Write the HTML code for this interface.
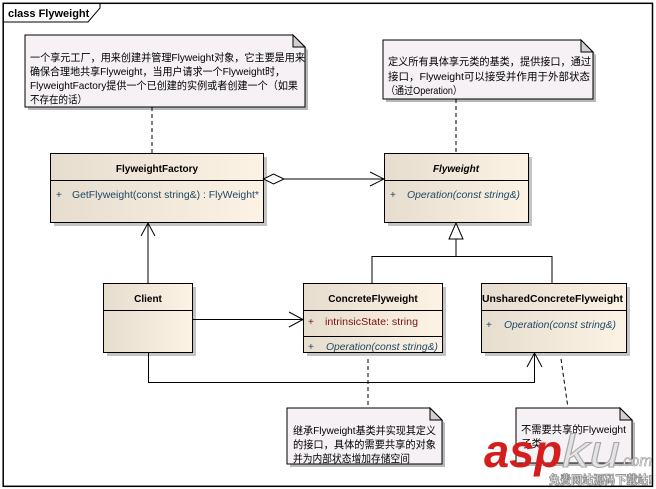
<!DOCTYPE html>
<html><head><meta charset="utf-8"><style>
html,body{margin:0;padding:0;background:#fff;}
svg{display:block;}
text{font-family:"Liberation Sans","Noto Sans CJK SC",sans-serif;}
.n{font-size:10.5px;fill:#000;}
.cn{font-size:10px;font-weight:bold;fill:#000;}
.op{font-size:10px;fill:#1c4866;}
.at{font-size:10px;fill:#7a1010;}
</style></head><body>
<svg width="656" height="489" viewBox="0 0 656 489" xmlns="http://www.w3.org/2000/svg">
<defs>
<linearGradient id="g" x1="0" y1="0" x2="1" y2="0">
<stop offset="0" stop-color="#e6ddcf"/><stop offset="1" stop-color="#fcf3e5"/>
</linearGradient>
</defs>
<rect x="0" y="0" width="656" height="489" fill="#fff"/>
<!-- frame -->
<rect x="3.2" y="3.3" width="649.3" height="483" fill="none" stroke="#000" stroke-width="1.5"/>
<polyline points="3,22 88,22 100,8 100,3" fill="none" stroke="#000" stroke-width="1"/>
<text x="8" y="17" style="font-size:11px;font-weight:bold">class Flyweight</text>

<!-- note 1 -->
<polygon points="28,38 296,38 308,50 308,110 28,110" fill="#b8b8b8"/>
<polygon points="25,35 293,35 305,47 305,107 25,107" fill="#f5f1f5" stroke="#000"/>
<polygon points="293,35 305,47 293,47" fill="#d2d0d2" stroke="#000"/>
<text class="n" x="30" y="61" textLength="275" lengthAdjust="spacingAndGlyphs">一个享元工厂，用来创建并管理Flyweight对象，它主要是用来</text>
<text class="n" x="30" y="75" textLength="255" lengthAdjust="spacingAndGlyphs">确保合理地共享Flyweight，当用户请求一个Flyweight时，</text>
<text class="n" x="30" y="89" textLength="268" lengthAdjust="spacingAndGlyphs">FlyweightFactory提供一个已创建的实例或者创建一个（如果</text>
<text class="n" x="30" y="103" textLength="57" lengthAdjust="spacingAndGlyphs">不存在的话）</text>

<!-- note 2 -->
<polygon points="386,43 584,43 596,55 596,102 386,102" fill="#b8b8b8"/>
<polygon points="383,40 581,40 593,52 593,99 383,99" fill="#f5f1f5" stroke="#000"/>
<polygon points="581,40 593,52 581,52" fill="#d2d0d2" stroke="#000"/>
<text class="n" x="388" y="65" textLength="203" lengthAdjust="spacingAndGlyphs">定义所有具体享元类的基类，提供接口，通过</text>
<text class="n" x="388" y="80" textLength="202" lengthAdjust="spacingAndGlyphs">接口，Flyweight可以接受并作用于外部状态</text>
<text class="n" x="386" y="94" textLength="76" lengthAdjust="spacingAndGlyphs">（通过Operation）</text>

<!-- dashed note links -->
<g stroke="#000" stroke-dasharray="4,3" fill="none">
<line x1="152" y1="107" x2="152" y2="153"/>
<line x1="456" y1="99" x2="456" y2="153"/>
<line x1="368" y1="352" x2="368" y2="408"/>
<line x1="560" y1="352" x2="568" y2="408"/>
</g>

<!-- FlyweightFactory -->
<rect x="54" y="157" width="213" height="69" fill="#c4c4c4"/>
<rect x="50.5" y="153.5" width="213" height="69" fill="url(#g)" stroke="#000"/>
<line x1="50.5" y1="180.5" x2="263.5" y2="180.5" stroke="#000"/>
<text class="cn" x="157" y="172" text-anchor="middle">FlyweightFactory</text>
<text class="op" x="56" y="198">+</text>
<text class="op" x="72" y="198" textLength="187" lengthAdjust="spacingAndGlyphs">GetFlyweight(const string&amp;) : FlyWeight*</text>

<!-- Flyweight -->
<rect x="388" y="157" width="144" height="69" fill="#c4c4c4"/>
<rect x="384.5" y="153.5" width="144" height="69" fill="url(#g)" stroke="#000"/>
<line x1="384.5" y1="180.5" x2="528.5" y2="180.5" stroke="#000"/>
<text class="cn" x="456" y="172" text-anchor="middle" font-style="italic">Flyweight</text>
<text class="op" x="390" y="198">+</text>
<text class="op" x="407" y="198" font-style="italic" textLength="113" lengthAdjust="spacingAndGlyphs">Operation(const string&amp;)</text>

<!-- aggregation -->
<line x1="284" y1="179" x2="384" y2="179" stroke="#000"/>
<polygon points="263.5,179 273.5,174 284,179 273.5,184" fill="#fff" stroke="#000"/>
<polyline points="370,172 384,179 370,186" fill="none" stroke="#000"/>

<!-- generalization -->
<polyline points="372,283 372,256.5 552,256.5 552,283" fill="none" stroke="#000"/>
<line x1="456" y1="239" x2="456" y2="256.5" stroke="#000"/>
<polygon points="456,223 449,239 463,239" fill="#fff" stroke="#000"/>

<!-- Client -->
<rect x="107" y="287" width="89" height="69" fill="#c4c4c4"/>
<rect x="103.5" y="283.5" width="89" height="69" fill="url(#g)" stroke="#000"/>
<line x1="103.5" y1="310.5" x2="192.5" y2="310.5" stroke="#000"/>
<text class="cn" x="148" y="302" text-anchor="middle">Client</text>

<!-- Client -> Factory -->
<line x1="148" y1="223" x2="148" y2="283" stroke="#000"/>
<polyline points="141,236 148,223 155,236" fill="none" stroke="#000"/>

<!-- ConcreteFlyweight -->
<rect x="307" y="287" width="139" height="69" fill="#c4c4c4"/>
<rect x="303.5" y="283.5" width="139" height="69" fill="url(#g)" stroke="#000"/>
<line x1="303.5" y1="310.5" x2="442.5" y2="310.5" stroke="#000"/>
<line x1="303.5" y1="336.5" x2="442.5" y2="336.5" stroke="#000"/>
<text class="cn" x="373" y="302" text-anchor="middle">ConcreteFlyweight</text>
<text class="at" x="308" y="325">+</text>
<text class="at" x="325" y="325" textLength="93" lengthAdjust="spacingAndGlyphs">intrinsicState:  string</text>
<text class="op" x="308" y="350">+</text>
<text class="op" x="326" y="350" font-style="italic" textLength="112" lengthAdjust="spacingAndGlyphs">Operation(const string&amp;)</text>

<!-- Client -> Concrete -->
<line x1="192" y1="319.5" x2="303" y2="319.5" stroke="#000"/>
<polyline points="289,312 303,319.5 289,327" fill="none" stroke="#000"/>

<!-- Unshared -->
<rect x="485" y="287" width="145" height="69" fill="#c4c4c4"/>
<rect x="481.5" y="283.5" width="145" height="69" fill="url(#g)" stroke="#000"/>
<line x1="481.5" y1="310.5" x2="626.5" y2="310.5" stroke="#000"/>
<text class="cn" x="552.5" y="302" text-anchor="middle" textLength="141" lengthAdjust="spacingAndGlyphs">UnsharedConcreteFlyweight</text>
<text class="op" x="486" y="328">+</text>
<text class="op" x="504" y="328" font-style="italic" textLength="112" lengthAdjust="spacingAndGlyphs">Operation(const string&amp;)</text>

<!-- Client -> Unshared -->
<polyline points="148.5,352 148.5,382.5 534.5,382.5 534.5,353" fill="none" stroke="#000"/>
<polyline points="527,367 534.5,353 542,367" fill="none" stroke="#000"/>

<!-- note 3 -->
<polygon points="290,411 433,411 445,423 445,467 290,467" fill="#b8b8b8"/>
<polygon points="287,408 430,408 442,420 442,464 287,464" fill="#f5f1f5" stroke="#000"/>
<polygon points="430,408 442,420 430,420" fill="#d2d0d2" stroke="#000"/>
<text class="n" x="293" y="434" textLength="143" lengthAdjust="spacingAndGlyphs">继承Flyweight基类并实现其定义</text>
<text class="n" x="293" y="448" textLength="143" lengthAdjust="spacingAndGlyphs">的接口，具体的需要共享的对象</text>
<text class="n" x="293" y="462" textLength="117" lengthAdjust="spacingAndGlyphs">并为内部状态增加存储空间</text>

<!-- note 4 -->
<polygon points="519,411 623,411 635,423 635,466 519,466" fill="#b8b8b8"/>
<polygon points="516,408 620,408 632,420 632,463 516,463" fill="#f5f1f5" stroke="#000"/>
<polygon points="620,408 632,420 620,420" fill="#d2d0d2" stroke="#000"/>
<text class="n" x="521" y="433" textLength="105" lengthAdjust="spacingAndGlyphs">不需要共享的Flyweight</text>
<text class="n" x="521" y="447">子类</text>

<!-- watermark -->
<text x="484" y="467" style="font-size:46px;font-weight:bold;font-style:italic;fill:#d41e1e" textLength="78" lengthAdjust="spacingAndGlyphs">asp</text>
<text x="562" y="467" style="font-size:46px;font-style:italic;fill:#e4e4e4;stroke:#a8a8a8;stroke-width:1" textLength="58" lengthAdjust="spacingAndGlyphs">ku</text>
<text x="619" y="466" style="font-size:16px;font-style:italic;fill:#e8e8e8;stroke:#9a9a9a;stroke-width:0.6" textLength="33" lengthAdjust="spacingAndGlyphs">.com</text>
<text x="549" y="484" style="font-size:12px;font-weight:bold;fill:#fff;stroke:#8a8a8a;stroke-width:0.8" textLength="103" lengthAdjust="spacingAndGlyphs">免费网站源码下载站!</text>
</svg>
</body></html>
